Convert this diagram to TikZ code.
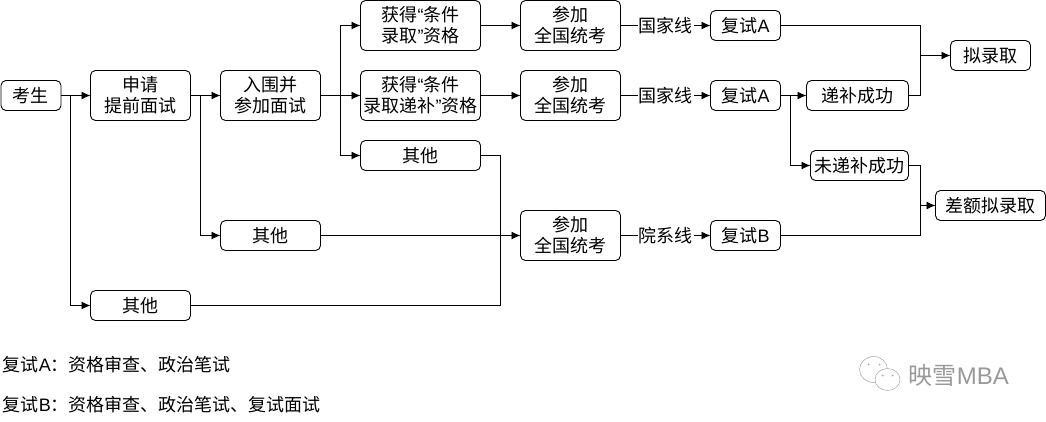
\documentclass[tikz,border=0pt]{standalone}
\usepackage{fontspec}
\setmainfont{Noto Sans CJK SC}
\newfontfamily\latinfont{Liberation Sans}
\usetikzlibrary{arrows.meta}
\newcommand{\lqo}{{\latinfont “}}
\newcommand{\rqo}{{\latinfont ”}}
\newcommand{\fsa}{复试{\latinfont A}}
\newcommand{\fsb}{复试{\latinfont B}}

\begin{document}
\begin{tikzpicture}[x=1pt,y=-1pt,>/.tip={Latex[length=9pt,width=8pt]},line width=0.9pt,
	box/.style={draw,rounded corners=5pt,inner sep=0pt,outer sep=0pt,align=center,minimum height=30pt,font=\fontsize{18}{21}\selectfont},
	tallbox/.style={box,minimum height=50pt},
	linelabel/.style={fill=white,inner sep=1pt,font=\fontsize{18}{21}\selectfont},
	note/.style={anchor=west,inner sep=0pt,font=\fontsize{18}{21}\selectfont}]
	\useasboundingbox (-0.5,-0.5) rectangle (1045.5,420.5);
	\draw (30.5,95) node(ks) [box,minimum width=60pt] {考生};
	\draw (140,95) node(sq) [tallbox,minimum width=100pt] {申请\\提前面试};
	\draw (270,95) node(rw) [tallbox,minimum width=100pt] {入围并\\参加面试};
	\draw (420,25) node(tj) [tallbox,minimum width=120pt] {获得\lqo 条件\\录取\rqo 资格};
	\draw (420,95) node(db) [tallbox,minimum width=120pt] {获得\lqo 条件\\录取递补\rqo 资格};
	\draw (420,155) node(qt1) [box,minimum width=120pt] {其他};
	\draw (270,235) node(qt2) [box,minimum width=100pt] {其他};
	\draw (140,305) node(qt3) [box,minimum width=100pt] {其他};
	\draw (570,25) node(tk1) [tallbox,minimum width=100pt] {参加\\全国统考};
	\draw (570,95) node(tk2) [tallbox,minimum width=100pt] {参加\\全国统考};
	\draw (570,235) node(tk3) [tallbox,minimum width=100pt] {参加\\全国统考};
	\draw (745,25) node(fa1) [box,minimum width=70pt] {\fsa};
	\draw (745,95) node(fa2) [box,minimum width=70pt] {\fsa};
	\draw (745,235) node(fb) [box,minimum width=70pt] {\fsb};
	\draw (857,95) node(cg) [box,minimum width=102pt] {递补成功};
	\draw (859,165) node(wcg) [box,minimum width=98pt] {未递补成功};
	\draw (990,55) node(nl) [box,minimum width=80pt] {拟录取};
	\draw (990,205) node(ce) [box,minimum width=110pt] {差额拟录取};

	\coordinate (j1) at (70,95);
	\coordinate (j2) at (200,95);
	\coordinate (j3) at (340,95);
	\coordinate (j4) at (790,95);
	\coordinate (j5) at (500,235);
	\coordinate (j6) at (920,55);
	\coordinate (j7) at (920,205);

	\draw[->] (ks) -- (sq);
	\draw[->] (sq) -- (rw);
	\draw[->] (rw) -- (db);
	\draw[->] (j1) |- (qt3);
	\draw[->] (j2) |- (qt2);
	\draw[->] (j3) |- (tj);
	\draw[->] (j3) |- (qt1);
	\draw[->] (tj) -- (tk1);
	\draw[->] (db) -- (tk2);
	\draw[->] (qt2) -- (tk3);
	\draw (qt1) -| (j5);
	\draw (qt3) -| (j5);
	\draw[->] (tk1) -- node [linelabel] {国家线} (fa1);
	\draw[->] (tk2) -- node [linelabel] {国家线} (fa2);
	\draw[->] (tk3) -- node [linelabel] {院系线} (fb);
	\draw[->] (fa2) -- (cg);
	\draw[->] (j4) |- (wcg);
	\draw (fa1) -| (j6);
	\draw (cg) -| (j6);
	\draw (wcg) -| (j7);
	\draw (fb) -| (j7);
	\draw[->] (j6) -- (nl);
	\draw[->] (j7) -- (ce);

	\draw (2,364) node(notea) [note] {\fsa：资格审查、政治笔试};
	\draw (2,404) node(noteb) [note] {\fsb：资格审查、政治笔试、复试面试};

	\draw[gray!70,line width=0.5pt] (873,369) ellipse (14pt and 13pt);
	\draw[gray!70,line width=0.5pt,fill=white] (887,379) ellipse (12.5pt and 11pt);
	\fill[gray!70] (868,364) circle (1pt) (879,364) circle (1pt) (882,375) circle (1pt) (892,375) circle (1pt);
	\draw (908,375) node(mark) [anchor=west,inner sep=0pt,text=gray!80,font=\fontsize{24}{26}\selectfont] {映雪{\latinfont MBA}};
\end{tikzpicture}
\end{document}
